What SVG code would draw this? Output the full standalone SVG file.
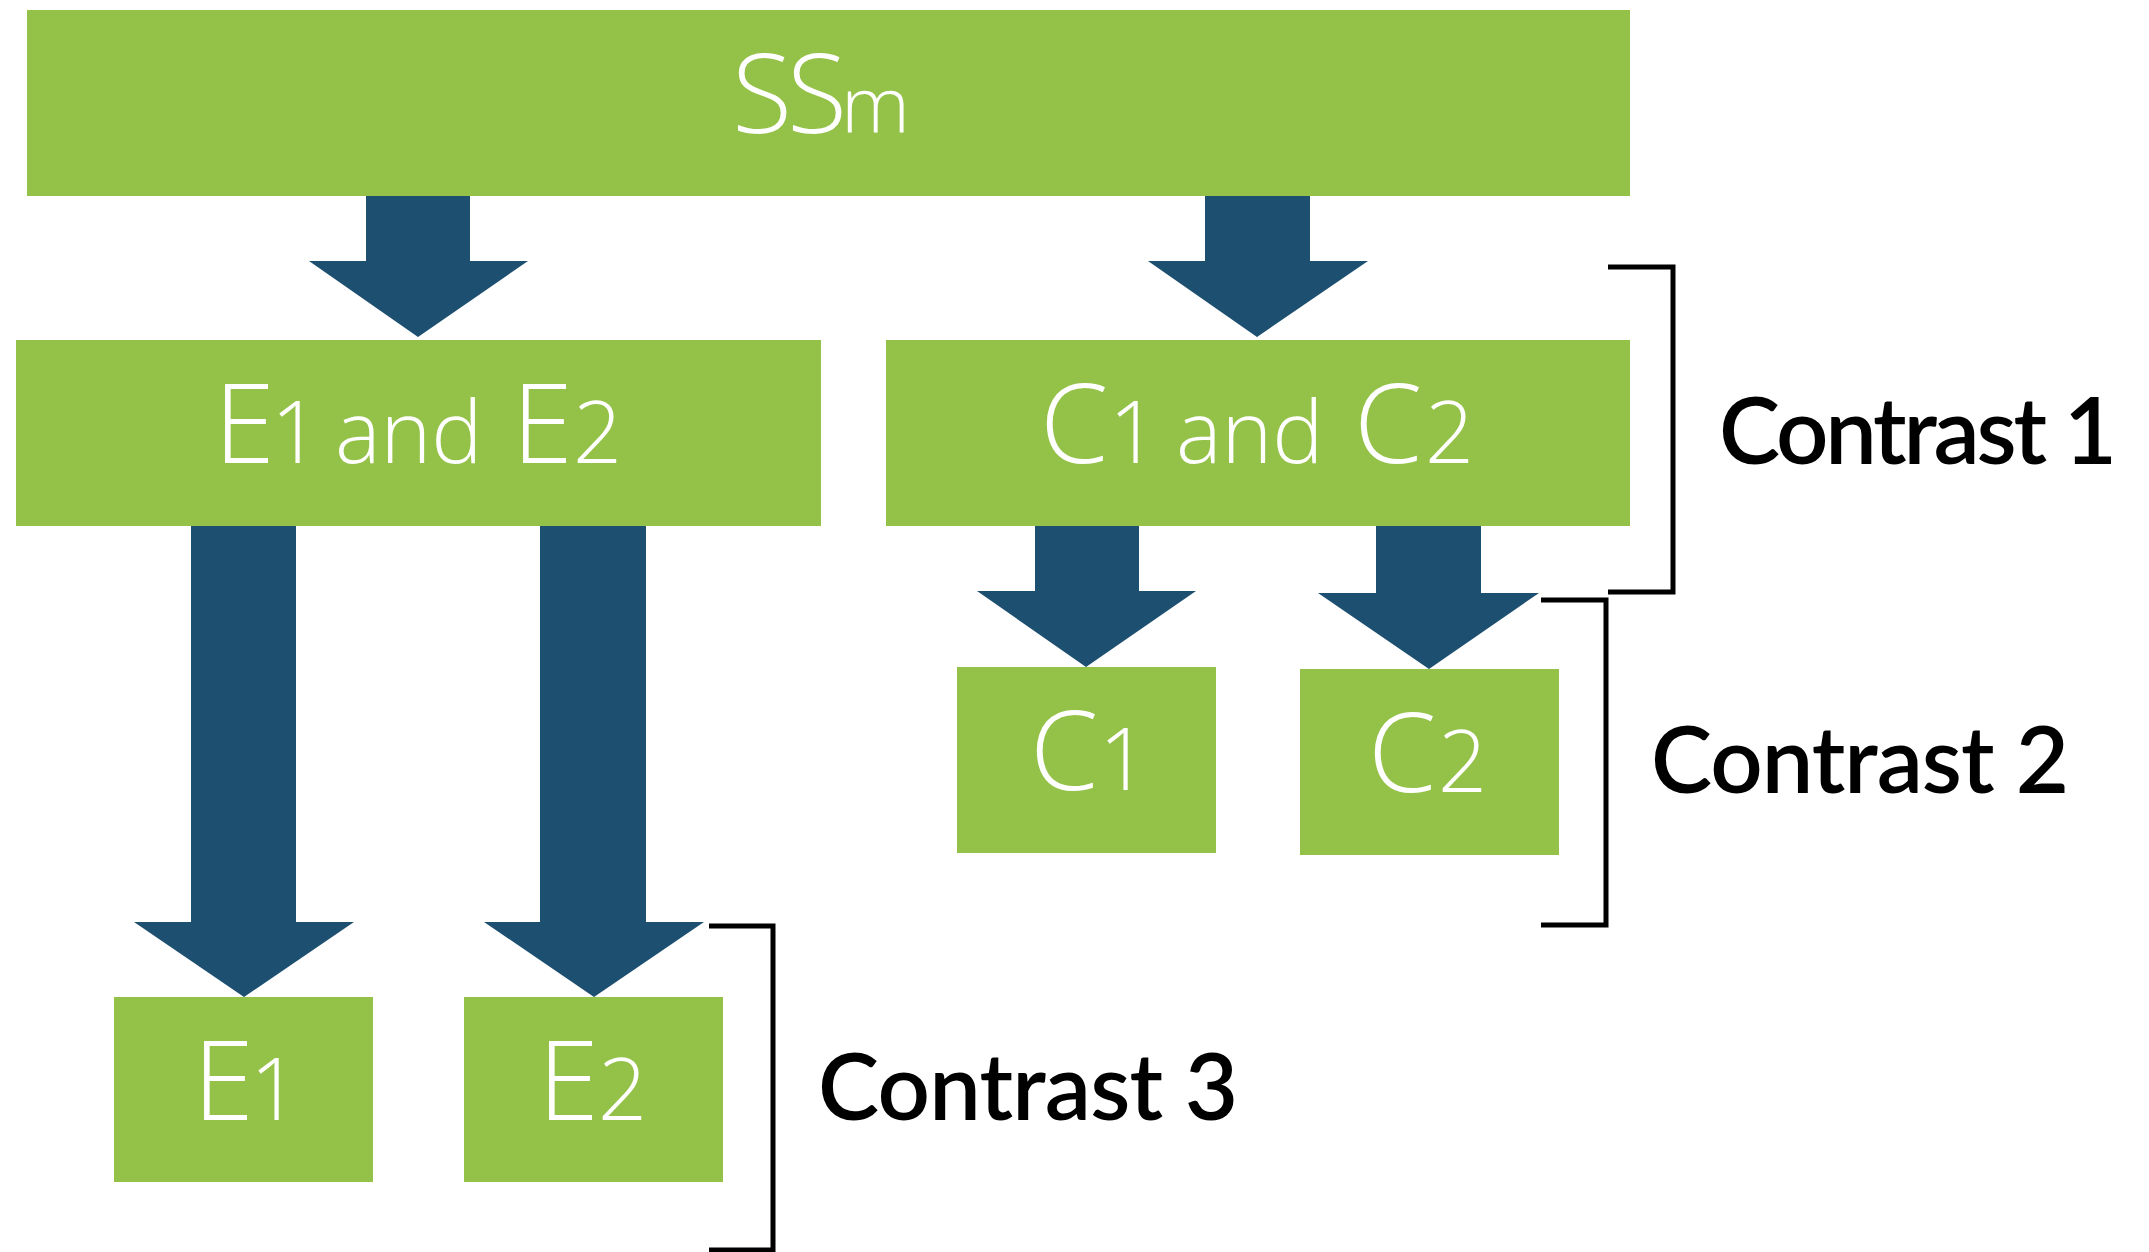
<svg xmlns="http://www.w3.org/2000/svg" width="2149" height="1252" viewBox="0 0 2149 1252">
  <style>
    .box { fill: #94C147; }
    .arrow { fill: #1D4F70; }
    .lbl { font-family: "Open Sans", Lato, "Liberation Sans", sans-serif; font-weight: 300; font-size: 110px; fill: #FFFFFF; }
    .dig { font-size: 86px; }
    .low { font-size: 86px; }
    .ctr { font-family: Lato, "Liberation Sans", sans-serif; font-weight: 600; font-size: 92px; fill: #000000; }
    .br { fill: none; stroke: #000000; stroke-width: 5; }
  </style>
  <rect width="2149" height="1252" fill="#FFFFFF"/>
  <g id="connectors">
    <polygon class="arrow" points="366,193 470,193 470,261 528,261 418,337 309,261 366,261"/>
    <polygon class="arrow" points="1205,193 1310,193 1310,261 1368,261 1257,337 1148,261 1205,261"/>
    <polygon class="arrow" points="191,524 296,524 296,922 354,922 244,997 134,922 191,922"/>
    <polygon class="arrow" points="540,522 646,522 646,922 704,922 594,997 484,922 540,922"/>
    <polygon class="arrow" points="1035,524 1139,524 1139,591 1196,591 1086,667 977,591 1035,591"/>
    <polygon class="arrow" points="1376,526 1481,526 1481,593 1539,593 1429,669 1318,593 1376,593"/>
  </g>
  <g id="node-ssm">
    <rect class="box" x="27" y="10" width="1603" height="186"/>
    <text class="lbl" y="133"><tspan x="732">S</tspan><tspan x="787">S</tspan><tspan x="841" style="font-size:78px">m</tspan></text>
  </g>
  <g id="node-e1e2">
    <rect class="box" x="16" y="340" width="805" height="186"/>
    <text class="lbl" y="463"><tspan x="214">E</tspan><tspan class="dig" x="271">1</tspan><tspan class="low" x="335">and</tspan><tspan x="512">E</tspan><tspan class="dig" x="573">2</tspan></text>
  </g>
  <g id="node-c1c2">
    <rect class="box" x="886" y="340" width="744" height="186"/>
    <text class="lbl" y="463"><tspan x="1040">C</tspan><tspan class="dig" x="1109">1</tspan><tspan class="low" x="1176">and</tspan><tspan x="1354">C</tspan><tspan class="dig" x="1425">2</tspan></text>
  </g>
  <g id="node-c1">
    <rect class="box" x="957" y="667" width="259" height="186"/>
    <text class="lbl" y="790"><tspan x="1030">C</tspan><tspan class="dig" x="1099">1</tspan></text>
  </g>
  <g id="node-c2">
    <rect class="box" x="1300" y="669" width="259" height="186"/>
    <text class="lbl" y="792"><tspan x="1368">C</tspan><tspan class="dig" x="1438">2</tspan></text>
  </g>
  <g id="node-e1">
    <rect class="box" x="114" y="997" width="259" height="185"/>
    <text class="lbl" y="1120"><tspan x="193">E</tspan><tspan class="dig" x="250">1</tspan></text>
  </g>
  <g id="node-e2">
    <rect class="box" x="464" y="997" width="259" height="185"/>
    <text class="lbl" y="1120"><tspan x="538">E</tspan><tspan class="dig" x="598">2</tspan></text>
  </g>
  <g id="contrast1">
    <polyline class="br" points="1608,267 1673,267 1673,592 1608,592"/>
    <text class="ctr" x="1719" y="464" textLength="398">Contrast 1</text>
  </g>
  <g id="contrast2">
    <polyline class="br" points="1541,600 1606,600 1606,925 1541,925"/>
    <text class="ctr" x="1651" y="793" textLength="418">Contrast 2</text>
  </g>
  <g id="contrast3">
    <polyline class="br" points="709,926 773,926 773,1250 709,1250"/>
    <text class="ctr" x="818" y="1120" textLength="420">Contrast 3</text>
  </g>
</svg>
